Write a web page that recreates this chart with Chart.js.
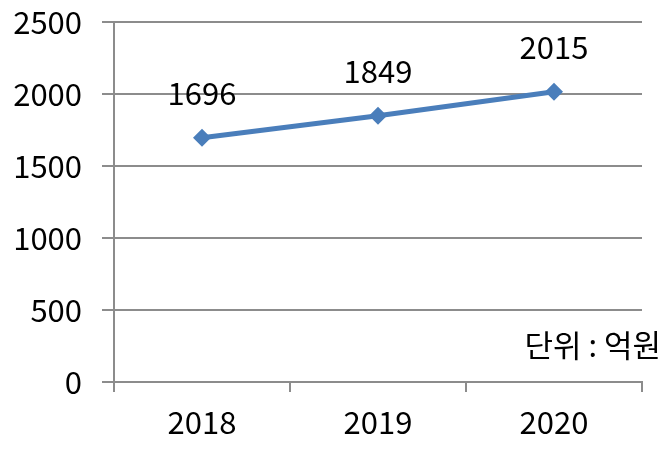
<!DOCTYPE html>
<html>
<head>
<meta charset="utf-8">
<script src="https://cdn.jsdelivr.net/npm/chart.js@4"></script>
<style>
  html, body { margin: 0; padding: 0; background: #fff; }
  #wrap { width: 663px; height: 450px; }
</style>
</head>
<body>
<div id="wrap"><canvas id="chart" width="663" height="450"></canvas></div>
<script>
// Chart data
const years = ['2018', '2019', '2020'];
const amounts = [1696, 1849, 2015];
const yTicks = [0, 500, 1000, 1500, 2000, 2500];
const unitNote = '단위 : 억원';

const FONT = '"Noto Sans CJK KR", "Noto Sans", sans-serif';
const FSIZE = 31;
const gridGray = '#8c8c8c';

// value labels above each point + unit note
const labelPlugin = {
    id: 'labels',
    afterDatasetsDraw(chart) {
        const ctx = chart.ctx;
        const meta = chart.getDatasetMeta(0);
        ctx.save();
        ctx.font = FSIZE + 'px ' + FONT;
        ctx.fillStyle = '#000';
        ctx.textAlign = 'center';
        ctx.textBaseline = 'middle';
        meta.data.forEach((pt, i) => {
            ctx.fillText(String(amounts[i]), pt.x, pt.y - 45);
        });
        ctx.textAlign = 'right';
        ctx.fillText(unitNote, 661, 345);
        ctx.restore();
    }
};

new Chart(document.getElementById('chart'), {
    type: 'line',
    data: {
        labels: years,
        datasets: [{
            data: amounts,
            borderColor: '#4A7EBB',
            backgroundColor: '#4A7EBB',
            borderWidth: 5,
            pointStyle: 'rectRot',
            pointRadius: 9,
            pointBorderWidth: 0,
            tension: 0
        }]
    },
    options: {
        responsive: false,
        animation: false,
        layout: { padding: { top: 22, right: 21, left: 0, bottom: 0 } },
        plugins: {
            legend: { display: false },
            tooltip: { enabled: false }
        },
        scales: {
            x: {
                offset: true,
                grid: {
                    offset: true,
                    drawOnChartArea: false,
                    color: gridGray,
                    tickLength: 10,
                    lineWidth: 2
                },
                border: { color: gridGray, width: 2 },
                ticks: {
                    color: '#000',
                    font: { family: FONT, size: FSIZE },
                    padding: 12
                },
                afterFit(scale) { scale.height = 68; }
            },
            y: {
                min: 0,
                max: 2500,
                afterBuildTicks(scale) {
                    scale.ticks = yTicks.map(v => ({ value: v }));
                },
                grid: {
                    color: gridGray,
                    tickLength: 12,
                    lineWidth: 2
                },
                border: { color: gridGray, width: 2 },
                ticks: {
                    color: '#000',
                    font: { family: FONT, size: FSIZE },
                    padding: 20,
                    callback: v => String(v)
                },
                afterFit(scale) {
                    scale.width = 114;
                    scale.paddingTop = 0;
                    scale.paddingBottom = 0;
                }
            }
        }
    },
    plugins: [labelPlugin]
});
</script>
</body>
</html>
